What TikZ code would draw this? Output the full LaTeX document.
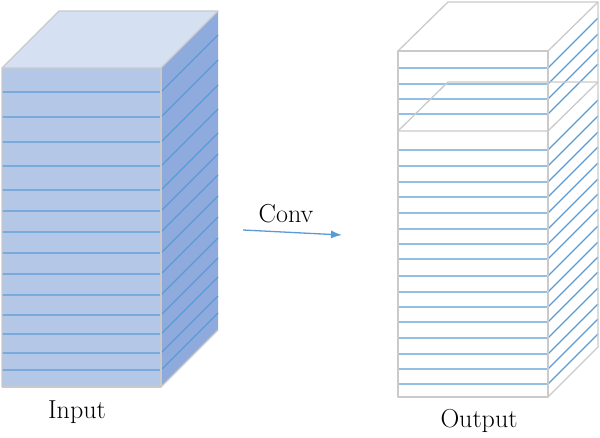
\documentclass[tikz,border=0pt]{standalone}
\usepackage{tikz}
\usetikzlibrary{arrows,arrows.meta,positioning}
\definecolor{slabblue}{HTML}{5B9BD5}
\definecolor{frontblue}{HTML}{B4C7E7}
\definecolor{topblue}{HTML}{D6E0F3}
\definecolor{sideblue}{HTML}{8FAADC}
\definecolor{edgegray}{HTML}{CACACA}
\tikzset{
    cube edge/.style={draw=edgegray, line width=1.3pt, line join=round},
    slab line/.style={draw=slabblue, line width=1.4pt},
    caption/.style={font=\fontsize{26}{30}\selectfont, inner sep=0pt, anchor=base}
}

\begin{document}
\begin{tikzpicture}[x=1pt, y=-1pt, >={Latex[length=11pt,width=8pt]}]
	\useasboundingbox (0,0) rectangle (600,438);
		\begin{scope}
			\fill[topblue] (2,68) -- (59,11) -- (218,11) -- (161,68) -- cycle;
			\fill[frontblue] (2,68) rectangle (161,387);
			\fill[sideblue] (161,68) -- (218,11) -- (218,330) -- (161,387) -- cycle;
			\foreach \y in {92,117,142,166,190,211,232,253,274,295,315,334,353,370}
				\draw[slab line] (2,\y) -- (161,\y) -- ++(57,-57);
			\draw[cube edge] (2,387) -- (2,68) -- (59,11) -- (218,11) -- (161,68) -- (2,68);
			\draw[cube edge] (161,68) -- (161,387) -- (2,387);
			\draw[cube edge] (161,387) -- (218,330);
		\end{scope}
		\begin{scope}
			\foreach \y in {68,84,99,114,150,166,182,197,213,229,244,259,276,292,307,322,338,354,369,384}
				\draw[slab line] (398,\y) -- (548,\y) -- ++(50,-50);
			\draw[cube edge] (398,51) rectangle (548,397);
			\draw[cube edge] (398,51) -- (448,2) -- (598,2) -- (548,51);
			\draw[cube edge] (598,2) -- (598,347) -- (548,397);
			\draw[cube edge] (398,131) -- (448,82) -- (598,82);
			\draw[cube edge] (398,131) -- (548,131) -- (598,82);
		\end{scope}
		\coordinate (convin) at (243,230);
		\coordinate (convout) at (342,235);
		\draw[->, slabblue, line width=1.3pt] (convin) -- (convout);
		\node[caption] (convlabel) at (286,223) {Conv};
		\node[caption] (inputlabel) at (77,418) {Input};
		\node[caption] (outputlabel) at (479,428) {Output};
\end{tikzpicture}
\end{document}
